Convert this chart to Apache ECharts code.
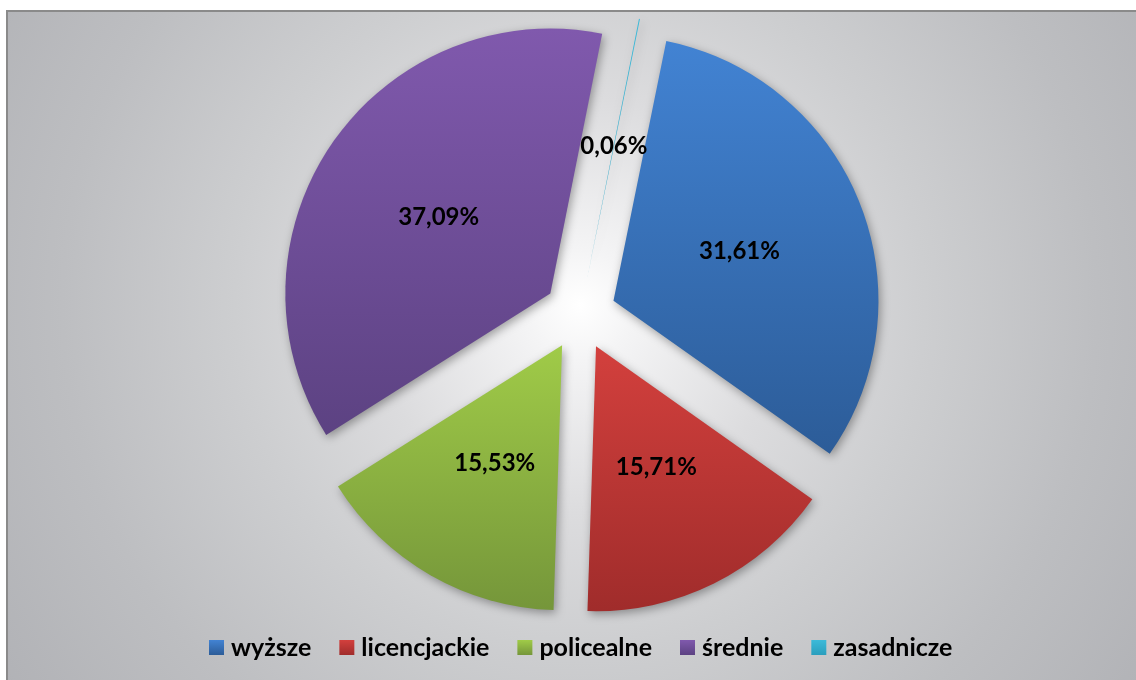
<!DOCTYPE html>
<html>
<head>
<meta charset="utf-8">
<style>
  html, body { margin: 0; padding: 0; background: #ffffff; }
  #chart { width: 1136px; height: 680px; }
</style>
<script src="https://cdn.jsdelivr.net/npm/echarts@6/dist/echarts.min.js"></script>
</head>
<body>
<div id="chart"></div>
<script>
// Education level shares (%)
const categories = ['wyższe', 'licencjackie', 'policealne', 'średnie', 'zasadnicze'];
const shares = [31.61, 15.71, 15.53, 37.09, 0.06];

// Slice fills: lighter top, darker bottom
const topColors = ['#4283d3', '#d3403d', '#a0cb48', '#8059ad', '#3cbad9'];
const bottomColors = ['#2c5c98', '#a02c2b', '#75963a', '#5c4282', '#2a9ebd'];

const FONT = 'Lato, "Open Sans", sans-serif';

function fmt(v) {
  return v.toFixed(2).replace('.', ',') + '%';
}

const chart = echarts.init(document.getElementById('chart'), null, { renderer: 'canvas' });

const pieData = categories.map(function (name, i) {
  return {
    name: name,
    value: shares[i],
    selected: true,
    itemStyle: {
      color: new echarts.graphic.LinearGradient(0, 0, 0, 1, [
        { offset: 0, color: topColors[i] },
        { offset: 1, color: bottomColors[i] }
      ])
    }
  };
});

chart.setOption({
  animation: false,
  backgroundColor: '#ffffff',
  graphic: [{
    type: 'rect',
    z: -10,
    silent: true,
    shape: { x: 7, y: 11, width: 1150, height: 700 },
    style: {
      fill: {
        type: 'radial',
        x: 580, y: 305, r: 690,
        global: true,
        colorStops: [
          { offset: 0, color: '#ffffff' },
          { offset: 0.08, color: '#f4f4f5' },
          { offset: 0.3, color: '#dcdcde' },
          { offset: 0.5, color: '#cdced0' },
          { offset: 0.75, color: '#bdbec1' },
          { offset: 1, color: '#b1b2b6' }
        ]
      },
      stroke: '#8a8a8a',
      lineWidth: 2
    }
  }],
  legend: {
    data: categories,
    left: 204,
    top: 630,
    icon: 'rect',
    itemWidth: 15,
    itemHeight: 15,
    itemGap: 28,
    selectedMode: false,
    textStyle: {
      fontFamily: FONT,
      fontWeight: 'bold',
      fontSize: 25,
      color: '#000000',
      padding: [0, 0, 0, 2]
    }
  },
  series: [{
    type: 'pie',
    center: [580, 314],
    radius: [0, 265],
    startAngle: 78.5,
    clockwise: true,
    selectedMode: 'multiple',
    selectedOffset: 36,
    avoidLabelOverlap: false,
    emphasis: { disabled: true },
    itemStyle: {
      borderWidth: 0,
      shadowBlur: 10,
      shadowColor: 'rgba(0,0,0,0.35)',
      shadowOffsetX: 2,
      shadowOffsetY: 3
    },
    label: {
      show: true,
      position: 'inside',
      fontFamily: FONT,
      fontWeight: 'bold',
      fontSize: 24,
      color: '#000000',
      formatter: function (p) { return fmt(p.value); }
    },
    labelLine: { show: false },
    data: pieData
  }]
});
</script>
</body>
</html>
